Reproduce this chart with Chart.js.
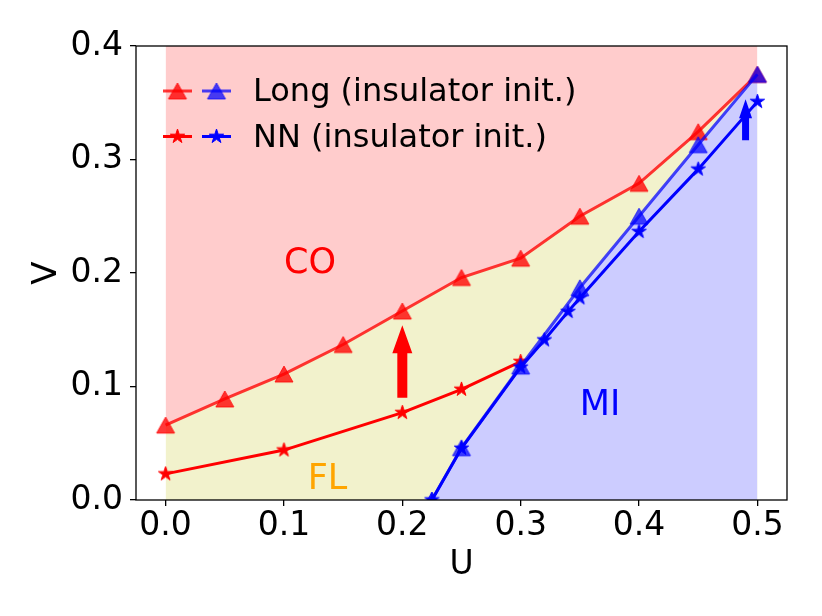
<!DOCTYPE html>
<html>
<head>
<meta charset="utf-8">
<script src="https://cdn.jsdelivr.net/npm/chart.js@4.4.0/dist/chart.umd.min.js"></script>
<style>
  html, body { margin: 0; padding: 0; background: #fff; }
  #wrap { width: 822px; height: 616px; }
</style>
</head>
<body>
<div id="wrap"><canvas id="phase" width="822" height="616"></canvas></div>
<script>
// Long-range model, CO boundary (red triangles)
const uLongCO = [0, 0.05, 0.1, 0.15, 0.2, 0.25, 0.3, 0.35, 0.4, 0.45, 0.5];
const vLongCO = [0.066, 0.089, 0.111, 0.137, 0.1665, 0.196, 0.213, 0.25, 0.279, 0.3245, 0.375];

// Long-range model, MI boundary (blue triangles)
const uLongMI = [0.225, 0.25, 0.3, 0.35, 0.4, 0.45, 0.5];
const vLongMI = [0, 0.046, 0.118, 0.187, 0.25, 0.313, 0.375];

// NN model, CO boundary (red stars)
const uNNCO = [0, 0.1, 0.2, 0.25, 0.3];
const vNNCO = [0.023, 0.044, 0.077, 0.0975, 0.122];

// NN model, MI boundary (blue stars)
const uNNMI = [0.225, 0.25, 0.3, 0.32, 0.34, 0.35, 0.4, 0.45, 0.5];
const vNNMI = [0, 0.0455, 0.117, 0.141, 0.166, 0.178, 0.2365, 0.2915, 0.351];

// axes
const xTicks = [0, 0.1, 0.2, 0.3, 0.4, 0.5];
const xTickLabels = ['0.0', '0.1', '0.2', '0.3', '0.4', '0.5'];
const yTicks = [0, 0.1, 0.2, 0.3, 0.4];
const yTickLabels = ['0.0', '0.1', '0.2', '0.3', '0.4'];

// legend + phase labels
const legendLabels = ['Long (insulator init.)', 'NN (insulator init.)'];
const phaseNames = ['CO', 'FL', 'MI'];
const phaseU = [0.1, 0.12, 0.35];
const phaseV = [0.2, 0.01, 0.075];

// arrows (U, from V, to V)
const arrowU = [0.2, 0.49];
const arrowFrom = [0.09, 0.317];
const arrowTo = [0.154, 0.353];

const pts = (xs, ys) => xs.map((x, i) => ({ x: x, y: ys[i] }));

// marker images, matplotlib-like '^' and '*'
function triMarker(color, w, h) {
    const c = document.createElement('canvas');
    c.width = w + 4; c.height = h + 4;
    const g = c.getContext('2d');
    g.beginPath();
    g.moveTo(c.width / 2, 2);
    g.lineTo(c.width / 2 + w / 2, 2 + h);
    g.lineTo(c.width / 2 - w / 2, 2 + h);
    g.closePath();
    g.fillStyle = color; g.fill();
    g.strokeStyle = color; g.lineWidth = 1; g.stroke();
    return c;
}
function starMarker(color, r) {
    const size = Math.ceil(2 * r + 4);
    const c = document.createElement('canvas');
    c.width = size; c.height = size;
    const g = c.getContext('2d');
    const cx = size / 2, cy = size / 2, ri = r * 0.382;
    g.beginPath();
    for (let k = 0; k < 10; k++) {
        const rr = k % 2 ? ri : r;
        const ang = -Math.PI / 2 + k * Math.PI / 5;
        const px = cx + rr * Math.cos(ang), py = cy + rr * Math.sin(ang);
        if (k === 0) g.moveTo(px, py); else g.lineTo(px, py);
    }
    g.closePath();
    g.fillStyle = color; g.fill();
    g.strokeStyle = color; g.lineWidth = 1; g.stroke();
    return c;
}

const redA = 'rgba(255,0,0,0.78)';
const blueA = 'rgba(0,0,255,0.72)';
const triRed = triMarker(redA, 18, 16);
const triBlue = triMarker(blueA, 18, 16);
const starRed = starMarker('red', 7.5);
const starBlue = starMarker('blue', 7.5);

const lineSet = (data, color, marker) => ({
    data: data,
    borderColor: color,
    borderWidth: 3,
    pointStyle: marker,
    pointRadius: 8,
    pointHoverRadius: 8,
    fill: false,
    tension: 0,
    clip: 0
});
const fillSet = (data, color, fill) => ({
    data: data,
    borderWidth: 0,
    pointRadius: 0,
    backgroundColor: color,
    fill: fill,
    clip: 0
});

// draws spines, arrows, phase names and the two-handle legend
const decor = {
    id: 'decor',
    afterDatasetsDraw(chart) {
        const { ctx, scales: { x, y } } = chart;
        const arrowStyle = [
            { color: 'red', shaft: 10, head: 20, len: 28 },
            { color: 'blue', shaft: 7, head: 13, len: 19 }
        ];
        ctx.save();
        arrowU.forEach((u, i) => {
            const s = arrowStyle[i];
            const px = x.getPixelForValue(u);
            const y0 = y.getPixelForValue(arrowFrom[i]);
            const y1 = y.getPixelForValue(arrowTo[i]);
            const sw = s.shaft / 2, hw = s.head / 2;
            ctx.fillStyle = s.color;
            ctx.beginPath();
            ctx.moveTo(px - sw, y0);
            ctx.lineTo(px - sw, y1 + s.len);
            ctx.lineTo(px - hw, y1 + s.len);
            ctx.lineTo(px, y1);
            ctx.lineTo(px + hw, y1 + s.len);
            ctx.lineTo(px + sw, y1 + s.len);
            ctx.lineTo(px + sw, y0);
            ctx.closePath();
            ctx.fill();
        });

        const phaseColors = ['red', 'orange', 'blue'];
        ctx.font = '35px "DejaVu Sans"';
        ctx.textAlign = 'left';
        ctx.textBaseline = 'alphabetic';
        phaseNames.forEach((t, i) => {
            ctx.fillStyle = phaseColors[i];
            ctx.fillText(t, x.getPixelForValue(phaseU[i]), y.getPixelForValue(phaseV[i]));
        });
        ctx.restore();
    },
    afterDraw(chart) {
        const { ctx, chartArea: a } = chart;
        ctx.save();
        // legend inside the axes, no frame
        const handles = [[redA, triRed, blueA, triBlue], ['red', starRed, 'blue', starBlue]];
        ctx.font = '32px "DejaVu Sans"';
        ctx.textAlign = 'left';
        ctx.textBaseline = 'alphabetic';
        legendLabels.forEach((lab, i) => {
            const cy = a.top + 45 + i * 45.5;
            const h = handles[i];
            [[a.left + 27, h[0], h[1]], [a.left + 66, h[2], h[3]]].forEach(([x0, col, img]) => {
                ctx.strokeStyle = col;
                ctx.lineWidth = 3;
                ctx.beginPath();
                ctx.moveTo(x0, cy);
                ctx.lineTo(x0 + 29, cy);
                ctx.stroke();
                ctx.drawImage(img, x0 + 14.5 - img.width / 2, cy - img.height / 2);
            });
            ctx.fillStyle = '#000';
            ctx.fillText(lab, a.left + 117, cy + 10);
        });
        // full box of spines
        ctx.strokeStyle = '#000';
        ctx.lineWidth = 1.3;
        ctx.strokeRect(a.left, a.top, a.right - a.left, a.bottom - a.top);
        ctx.restore();
    }
};

Chart.defaults.font.family = '"DejaVu Sans"';
Chart.defaults.color = '#000';

new Chart(document.getElementById('phase'), {
    type: 'line',
    data: {
        datasets: [
            lineSet(pts(uNNMI, vNNMI), 'blue', starBlue),
            lineSet(pts(uLongMI, vLongMI), blueA, triBlue),
            lineSet(pts(uNNCO, vNNCO), 'red', starRed),
            lineSet(pts(uLongCO, vLongCO), redA, triRed),
            fillSet(pts(uLongMI, vLongMI), '#ccccff', 'origin'),
            fillSet(pts(uLongCO, vLongCO), '#f2f2cc', 'origin'),
            fillSet(pts(uLongCO, vLongCO), '#ffcccc', 'end')
        ]
    },
    options: {
        responsive: false,
        devicePixelRatio: 1,
        animation: false,
        events: [],
        layout: { padding: { left: 0, top: 46, right: 35, bottom: 0 } },
        plugins: {
            legend: { display: false },
            tooltip: { enabled: false },
            filler: { drawTime: 'beforeDatasetsDraw' }
        },
        scales: {
            x: {
                type: 'linear',
                min: -0.025,
                max: 0.525,
                afterBuildTicks: (s) => { s.ticks = xTicks.map(v => ({ value: v })); },
                afterFit: (s) => { s.height = 116; },
                ticks: {
                    font: { size: 33 },
                    padding: 1,
                    maxRotation: 0,
                    autoSkip: false,
                    callback: (v, i) => xTickLabels[i]
                },
                grid: { drawOnChartArea: false, drawTicks: true, tickLength: 6, color: '#000', lineWidth: 1.3 },
                border: { display: false },
                title: { display: true, text: 'U', font: { size: 33 }, padding: { top: 0, bottom: 31 } }
            },
            y: {
                type: 'linear',
                min: 0,
                max: 0.4,
                afterBuildTicks: (s) => { s.ticks = yTicks.map(v => ({ value: v })); },
                afterFit: (s) => { s.width = 136; },
                ticks: {
                    font: { size: 33 },
                    padding: 7,
                    autoSkip: false,
                    callback: (v, i) => yTickLabels[i]
                },
                grid: { drawOnChartArea: false, drawTicks: true, tickLength: 6, color: '#000', lineWidth: 1.3 },
                border: { display: false },
                title: { display: true, text: 'V', font: { size: 34 }, padding: { top: 27, bottom: 0 } }
            }
        }
    },
    plugins: [decor]
});
</script>
</body>
</html>
